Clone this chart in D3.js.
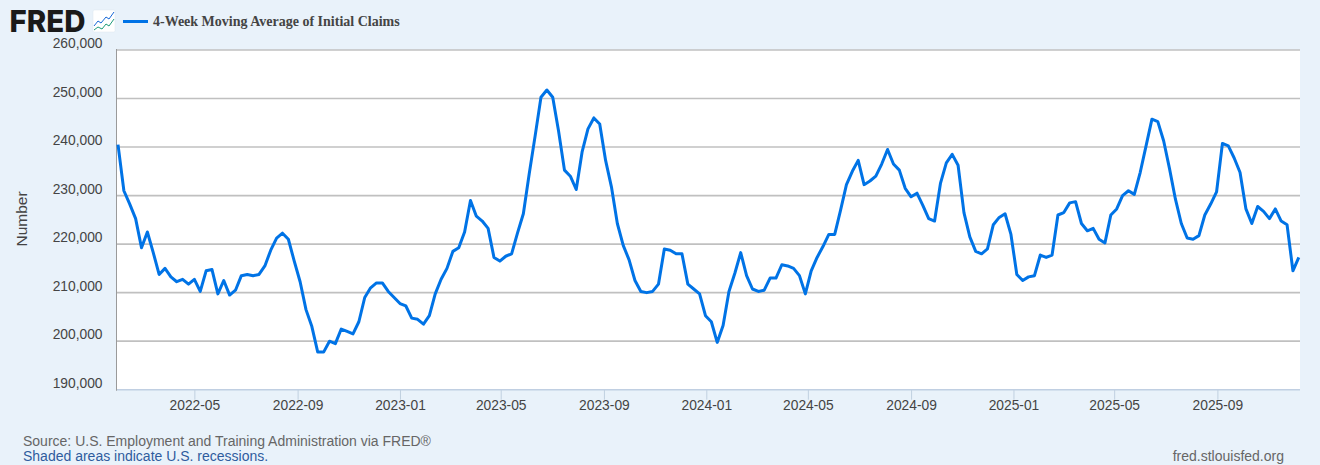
<!DOCTYPE html>
<html><head><meta charset="utf-8">
<script src="https://cdn.jsdelivr.net/npm/d3@7"></script>
<style>html,body{margin:0;padding:0;background:#e9f2fa;overflow:hidden}svg{display:block}text{font-family:"Liberation Sans",Arial,sans-serif}</style>
</head><body><svg id="c" width="1320" height="465"></svg>
<script>
const seriesName = "4-Week Moving Average of Initial Claims";
const firstWeek = "2022-01-30";
const claims = [240500,231000,228250,225250,219250,222500,218250,213750,215000,213250,212250,212750,211750,212750,210250,214500,214750,209750,212500,209500,210500,213500,213750,213500,213750,215500,218750,221250,222250,221000,216500,212250,206500,203000,197750,197750,200000,199500,202500,202000,201500,204000,209000,211000,212000,212000,210250,209000,207750,207250,204750,204500,203500,205250,209750,212750,215000,218500,219250,222500,229000,225750,224750,223250,217250,216500,217500,218000,222250,226250,234500,242250,250250,251750,250250,243250,235250,234000,231250,239000,243750,246000,244750,237250,231750,224250,219750,216750,212500,210250,210000,210250,211750,219000,218750,218000,218000,211750,210750,209750,205250,204000,199750,203250,210250,214000,218250,213500,210750,210250,210500,213000,213000,215750,215500,215000,213500,209750,214500,217250,219500,222000,222000,227000,232250,235000,237250,232250,233000,234000,236500,239500,236500,235250,231500,229750,230500,228000,225250,224750,232500,236750,238500,236250,226500,221500,218500,218000,219000,224000,225500,226250,222000,213750,212500,213250,213500,217750,217250,217750,226000,226500,228500,228750,224250,222750,223250,221000,220250,226000,227250,230000,231000,230250,234750,240250,245750,245250,241250,235500,229250,224250,221250,221000,221750,226000,228250,230750,240750,240250,237750,234750,227250,224250,227750,226750,225250,227250,224750,224000,214500,217250];
const yTicks = [190000,200000,210000,220000,230000,240000,250000,260000];
const xTicks = ["2022-05-01","2022-09-01","2023-01-01","2023-05-01","2023-09-01","2024-01-01","2024-05-01","2024-09-01","2025-01-01","2025-05-01","2025-09-01"];
const yTitle = "Number";
const sourceText = "Source: U.S. Employment and Training Administration via FRED®";
const recessionNote = "Shaded areas indicate U.S. recessions.";
const siteText = "fred.stlouisfed.org";

const parse = d3.utcParse("%Y-%m-%d");
const start = parse(firstWeek);
const points = claims.map((v,i)=>({date:d3.utcDay.offset(start,i*7),value:v}));
const L=117.5,R=1300,T=50,B=389.7;
const x = d3.scaleUtc().domain([start,points[points.length-1].date]).range([118,1298.8]);
const y = d3.scaleLinear().domain([190000,260000]).range([B,T]);
const svg = d3.select("#c");
svg.append("rect").attr("width",1320).attr("height",465).attr("fill","#e9f2fa");
svg.append("rect").attr("x",L-1).attr("y",T).attr("width",R-L+1).attr("height",B-T).attr("fill","#fff");

// x axis
const ax = svg.append("g").attr("transform",`translate(0,${B})`)
  .call(d3.axisBottom(x).tickValues(xTicks.map(parse)).tickFormat(d3.utcFormat("%Y-%m")).tickSize(10).tickPadding(1));
ax.select(".domain").remove();
ax.selectAll("line").attr("stroke","#c0d0e0").attr("stroke-width",1);
ax.selectAll("text").attr("font-size",13.8).attr("fill","#444").attr("dy","0.71em");
svg.append("line").attr("x1",L-1).attr("x2",R).attr("y1",B).attr("y2",B).attr("stroke","#c0cfe2").attr("stroke-width",1.5);

// y grid + labels
svg.append("g").selectAll("line").data(yTicks.filter(t=>t>190000)).join("line")
  .attr("x1",L-1).attr("x2",R).attr("y1",d=>y(d)).attr("y2",d=>y(d))
  .attr("stroke","#c0c0c0").attr("stroke-width",1.6);
const ay = svg.append("g").attr("transform",`translate(${L},0)`)
  .call(d3.axisLeft(y).tickValues(yTicks).tickFormat(d3.format(",")).tickSize(0).tickPadding(15));
ay.select(".domain").remove();
ay.selectAll("text").attr("font-size",13.8).attr("fill","#444").attr("dy","-0.17em");
svg.append("line").attr("x1",L-1).attr("x2",L-1).attr("y1",T-1).attr("y2",B+1).attr("stroke","#9a9a9a").attr("stroke-width",1);

svg.append("text").attr("transform","translate(27,219) rotate(-90)").attr("text-anchor","middle")
  .attr("font-size",15.5).attr("fill","#444").text(yTitle);

// series
const line = d3.line().x(d=>x(d.date)).y(d=>y(d.value));
svg.append("path").datum(points).attr("d",line).attr("fill","none")
  .attr("stroke","#0073e6").attr("stroke-width",3).attr("stroke-linejoin","round");

// header
svg.append("text").attr("x",9.5).attr("y",32).attr("font-size",30.5).attr("font-weight",800)
  .attr("fill","#1a1a1a").attr("textLength",76).attr("lengthAdjust","spacingAndGlyphs")
  .style("font-family","Inter,'Liberation Sans',sans-serif").text("FRED");
const icon = svg.append("g").attr("transform","translate(93,10)");
icon.append("rect").attr("width",22).attr("height",22).attr("rx",1.5).attr("fill","#fff").attr("stroke","#dde6ee").attr("stroke-width",.5);
icon.append("path").attr("d","M1,16 L5,11 L8,13 L13,7 L16,9 L21,2").attr("fill","none").attr("stroke","#1668d8").attr("stroke-width",1);
icon.append("path").attr("d","M1,20 L5,17 L9,19 L13,14 L16,16 L21,9").attr("fill","none").attr("stroke","#1f9b7a").attr("stroke-width",1);
svg.append("line").attr("x1",123).attr("x2",148).attr("y1",21.5).attr("y2",21.5).attr("stroke","#0073e6").attr("stroke-width",3);
svg.append("text").attr("x",153).attr("y",25.5).attr("font-size",14).attr("font-weight",700).attr("fill","#444")
  .style("font-family","'Liberation Serif',serif").text(seriesName);

// footer
svg.append("text").attr("x",23).attr("y",446).attr("font-size",14).attr("fill","#666").text(sourceText);
svg.append("text").attr("x",23).attr("y",461).attr("font-size",14).attr("fill","#2f5c9e").text(recessionNote);
svg.append("text").attr("x",1284).attr("y",461).attr("text-anchor","end").attr("font-size",14).attr("fill","#666").text(siteText);
</script></body></html>
